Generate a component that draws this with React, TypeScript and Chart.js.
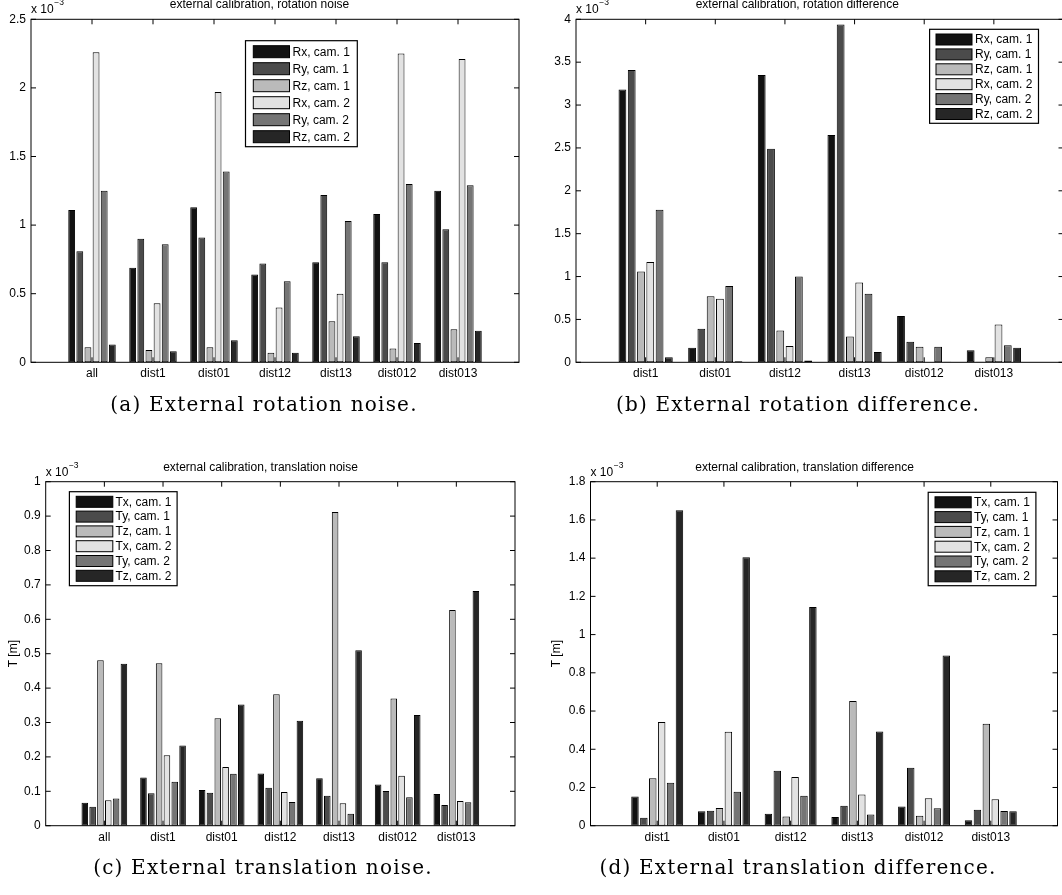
import React, { useEffect, useRef } from 'react';
import { Chart, registerables } from 'chart.js';

Chart.register(...registerables);

// ---------- data (values in units of 10^-3) ----------
const rotLabels = ['Rx, cam. 1', 'Ry, cam. 1', 'Rz, cam. 1', 'Rx, cam. 2', 'Ry, cam. 2', 'Rz, cam. 2'];
const transLabels = ['Tx, cam. 1', 'Ty, cam. 1', 'Tz, cam. 1', 'Tx, cam. 2', 'Ty, cam. 2', 'Tz, cam. 2'];
const barColors = ['#121212', '#4b4b4b', '#bababa', '#e2e2e2', '#757575', '#262626'];

const noiseCategories = ['all', 'dist1', 'dist01', 'dist12', 'dist13', 'dist012', 'dist013'];
const diffCategories = ['dist1', 'dist01', 'dist12', 'dist13', 'dist012', 'dist013'];

// (a) external calibration, rotation noise
const rotNoiseRx1 = [1.11, 0.69, 1.13, 0.64, 0.73, 1.08, 1.25];
const rotNoiseRy1 = [0.81, 0.9, 0.91, 0.72, 1.22, 0.73, 0.97];
const rotNoiseRz1 = [0.11, 0.09, 0.11, 0.07, 0.3, 0.1, 0.24];
const rotNoiseRx2 = [2.26, 0.43, 1.97, 0.4, 0.5, 2.25, 2.21];
const rotNoiseRy2 = [1.25, 0.86, 1.39, 0.59, 1.03, 1.3, 1.29];
const rotNoiseRz2 = [0.13, 0.08, 0.16, 0.07, 0.19, 0.14, 0.23];

// (b) external calibration, rotation difference
const rotDiffRx1 = [3.18, 0.17, 3.35, 2.65, 0.54, 0.14];
const rotDiffRy1 = [3.41, 0.39, 2.49, 3.94, 0.24, 0.005];
const rotDiffRz1 = [1.06, 0.77, 0.37, 0.3, 0.18, 0.06];
const rotDiffRx2 = [1.17, 0.74, 0.19, 0.93, 0.004, 0.44];
const rotDiffRy2 = [1.78, 0.89, 1.0, 0.8, 0.18, 0.2];
const rotDiffRz2 = [0.06, 0.012, 0.02, 0.12, 0.005, 0.17];

// (c) external calibration, translation noise
const transNoiseTx1 = [0.067, 0.14, 0.104, 0.152, 0.138, 0.12, 0.092];
const transNoiseTy1 = [0.055, 0.094, 0.096, 0.11, 0.087, 0.101, 0.06];
const transNoiseTz1 = [0.481, 0.472, 0.312, 0.382, 0.912, 0.37, 0.627];
const transNoiseTx2 = [0.074, 0.205, 0.171, 0.098, 0.065, 0.145, 0.072];
const transNoiseTy2 = [0.079, 0.128, 0.151, 0.069, 0.035, 0.083, 0.068];
const transNoiseTz2 = [0.471, 0.233, 0.352, 0.305, 0.51, 0.322, 0.682];

// (d) external calibration, translation difference
const transDiffTx1 = [0.153, 0.075, 0.062, 0.045, 0.1, 0.028];
const transDiffTy1 = [0.041, 0.078, 0.288, 0.105, 0.303, 0.083];
const transDiffTz1 = [0.248, 0.093, 0.048, 0.652, 0.052, 0.533];
const transDiffTx2 = [0.543, 0.491, 0.255, 0.163, 0.143, 0.138];
const transDiffTy2 = [0.225, 0.178, 0.157, 0.059, 0.091, 0.077];
const transDiffTz2 = [1.651, 1.405, 1.145, 0.493, 0.891, 0.076];

const titles = [
  'external calibration, rotation noise',
  'external calibration, rotation difference',
  'external calibration, translation noise',
  'external calibration, translation difference',
];
const captions = [
  '(a) External rotation noise.',
  '(b) External rotation difference.',
  '(c) External translation noise.',
  '(d) External translation difference.',
];
const exponentText = 'x 10';
const exponentSup = '\u22123';
const yAxisTitle = 'T [m]';

// ---------- layout / style ----------
const SANS = '"Liberation Sans", Arial, Helvetica, sans-serif';

type LegendCfg = {
  box: [number, number, number, number];
  row0: number;
  step: number;
  sw: [number, number];
  swH: number;
  textX: number;
};

type PanelCfg = {
  left: number;
  top: number;
  width: number;
  height: number;
  plot: { L: number; R: number; T: number; B: number };
  title: string;
  categories: string[];
  series: number[][];
  labels: string[];
  yMax: number;
  yStep: number;
  yTitleX?: number;
  legend: LegendCfg;
};

const panels: PanelCfg[] = [
  {
    left: 0, top: -11, width: 531, height: 431,
    plot: { L: 31, R: 519, T: 19.3, B: 362.3 },
    title: titles[0],
    categories: noiseCategories,
    series: [rotNoiseRx1, rotNoiseRy1, rotNoiseRz1, rotNoiseRx2, rotNoiseRy2, rotNoiseRz2],
    labels: rotLabels,
    yMax: 2.5, yStep: 0.5,
    legend: { box: [245.5, 40.7, 357.3, 146.7], row0: 51.7, step: 17, sw: [253.3, 289.5], swH: 12, textX: 292.5 },
  },
  {
    left: 531, top: -11, width: 540, height: 431,
    plot: { L: 576, R: 1063.5, T: 19.3, B: 362.3 },
    title: titles[1],
    categories: diffCategories,
    series: [rotDiffRx1, rotDiffRy1, rotDiffRz1, rotDiffRx2, rotDiffRy2, rotDiffRz2],
    labels: rotLabels,
    yMax: 4, yStep: 0.5,
    legend: { box: [929.6, 29.3, 1038.5, 123.3], row0: 39.5, step: 14.9, sw: [936, 972], swH: 11, textX: 975 },
  },
  {
    left: 0, top: 451, width: 531, height: 444,
    plot: { L: 45.7, R: 515, T: 481.7, B: 825.7 },
    title: titles[2],
    categories: noiseCategories,
    series: [transNoiseTx1, transNoiseTy1, transNoiseTz1, transNoiseTx2, transNoiseTy2, transNoiseTz2],
    labels: transLabels,
    yMax: 1, yStep: 0.1,
    yTitleX: 13.3,
    legend: { box: [69.4, 491.7, 177.1, 585.7], row0: 501.8, step: 14.8, sw: [76.2, 112.8], swH: 11, textX: 115.5 },
  },
  {
    left: 531, top: 451, width: 531, height: 444,
    plot: { L: 590.5, R: 1060, T: 481.7, B: 825.7 },
    title: titles[3],
    categories: diffCategories,
    series: [transDiffTx1, transDiffTy1, transDiffTz1, transDiffTx2, transDiffTy2, transDiffTz2],
    labels: transLabels,
    yMax: 1.8, yStep: 0.2,
    yTitleX: 556.4,
    legend: { box: [928.2, 492.3, 1035.9, 585.7], row0: 502.3, step: 14.8, sw: [935, 971.2], swH: 11, textX: 974 },
  },
];

function Panel({ cfg }: { cfg: PanelCfg }) {
  const ref = useRef<HTMLCanvasElement | null>(null);

  useEffect(() => {
    if (!ref.current) return;
    const { L, R, T, B } = cfg.plot;
    const padLeft = cfg.yTitleX !== undefined ? cfg.yTitleX - cfg.left - 7.2 : 0;
    const xLabels = ['', ...cfg.categories, ''];

    const framePlugin = {
      id: 'matlabFrame',
      afterDraw(chart: any) {
        const ctx = chart.ctx as CanvasRenderingContext2D;
        const { left, right, top, bottom } = chart.chartArea;
        const xs = chart.scales.x;
        const ys = chart.scales.y;
        const line = (x1: number, y1: number, x2: number, y2: number) => {
          ctx.beginPath();
          ctx.moveTo(x1, y1);
          ctx.lineTo(x2, y2);
          ctx.stroke();
        };
        ctx.save();
        ctx.strokeStyle = '#000';
        ctx.lineWidth = 1;
        ctx.strokeRect(left, top, right - left, bottom - top);
        ys.ticks.forEach((t: any) => {
          const py = ys.getPixelForValue(t.value);
          line(left, py, left + 5, py);
          line(right - 5, py, right, py);
        });
        xs.ticks.forEach((t: any, i: number) => {
          const lab = xs.getLabelForValue(t.value);
          if (!lab) return;
          const px = xs.getPixelForTick(i);
          line(px, bottom, px, bottom - 5);
          line(px, top, px, top + 5);
        });
        // exponent label
        ctx.fillStyle = '#000';
        ctx.textBaseline = 'middle';
        ctx.textAlign = 'left';
        ctx.font = `12px ${SANS}`;
        ctx.fillText(exponentText, left, top - 9.4);
        const w = ctx.measureText(exponentText).width;
        ctx.font = `8.5px ${SANS}`;
        ctx.fillText(exponentSup, left + w + 0.5, top - 16.5);

        // legend
        const lg = cfg.legend;
        const ox = cfg.left;
        const oy = cfg.top;
        const [bx0, by0, bx1, by1] = lg.box;
        ctx.fillStyle = '#fff';
        ctx.fillRect(bx0 - ox, by0 - oy, bx1 - bx0, by1 - by0);
        ctx.strokeStyle = '#000';
        ctx.lineWidth = 1.2;
        ctx.strokeRect(bx0 - ox, by0 - oy, bx1 - bx0, by1 - by0);
        ctx.lineWidth = 1;
        chart.data.datasets.forEach((ds: any, i: number) => {
          const cy = lg.row0 + i * lg.step - oy;
          ctx.fillStyle = ds.backgroundColor;
          ctx.fillRect(lg.sw[0] - ox, cy - lg.swH / 2, lg.sw[1] - lg.sw[0], lg.swH);
          ctx.strokeStyle = '#000';
          ctx.strokeRect(lg.sw[0] - ox, cy - lg.swH / 2, lg.sw[1] - lg.sw[0], lg.swH);
          ctx.fillStyle = '#000';
          ctx.font = `12px ${SANS}`;
          ctx.textBaseline = 'middle';
          ctx.fillText(ds.label, lg.textX - ox, cy + 0.5);
        });
        ctx.restore();
      },
    };

    const chart = new Chart(ref.current, {
      type: 'bar',
      data: {
        labels: xLabels,
        datasets: cfg.series.map((vals, i) => ({
          label: cfg.labels[i],
          data: [null, ...vals, null],
          backgroundColor: barColors[i],
          borderColor: '#000',
          borderWidth: 1,
          borderSkipped: false,
          categoryPercentage: 0.8,
          barPercentage: 0.84,
        })),
      },
      options: {
        animation: false,
        responsive: false,
        maintainAspectRatio: false,
        layout: {
          padding: { left: padLeft, top: 0, right: cfg.left + cfg.width - R, bottom: 0 },
        },
        plugins: {
          legend: { display: false },
          tooltip: { enabled: false },
          title: {
            display: true,
            text: cfg.title,
            color: '#000',
            font: { family: SANS, size: 12, weight: 'normal', lineHeight: 1.2 },
            padding: { top: T - cfg.top - 21.5, bottom: 7.1 },
          },
        },
        scales: {
          x: {
            type: 'category',
            offset: false,
            grid: { display: false, drawTicks: false },
            border: { display: false },
            ticks: {
              color: '#000',
              font: { family: SANS, size: 12 },
              padding: 4.5,
              maxRotation: 0,
              minRotation: 0,
              autoSkip: false,
            },
            afterFit: (s: any) => {
              s.height = cfg.top + cfg.height - B;
            },
          },
          y: {
            type: 'linear',
            min: 0,
            max: cfg.yMax,
            grid: { display: false, drawTicks: false },
            border: { display: false },
            ticks: {
              stepSize: cfg.yStep,
              color: '#000',
              font: { family: SANS, size: 12 },
              padding: 5,
              callback: (v: any) => String(Number(Number(v).toFixed(3))),
            },
            title: cfg.yTitleX !== undefined
              ? { display: true, text: yAxisTitle, color: '#000', font: { family: SANS, size: 12 }, padding: 0 }
              : { display: false },
            afterFit: (s: any) => {
              s.width = L - cfg.left - padLeft;
            },
          },
        },
      } as any,
      plugins: [framePlugin],
    });
    return () => chart.destroy();
  }, [cfg]);

  return (
    <canvas
      ref={ref}
      width={cfg.width}
      height={cfg.height}
      style={{
        position: 'absolute',
        left: cfg.left,
        top: cfg.top,
        width: cfg.width,
        height: cfg.height,
      }}
    />
  );
}

const captionPos = [
  { cx: 264, cy: 404 },
  { cx: 798, cy: 404 },
  { cx: 263, cy: 867 },
  { cx: 798, cy: 867 },
];

export default function App() {
  return (
    <div
      style={{
        position: 'absolute',
        left: 0,
        top: 0,
        width: 1062,
        height: 895,
        overflow: 'hidden',
        background: '#fff',
      }}
    >
      {panels.map((p, i) => (
        <Panel key={i} cfg={p} />
      ))}
      {captions.map((c, i) => (
        <div
          key={'c' + i}
          style={{
            position: 'absolute',
            left: captionPos[i].cx - 300,
            top: captionPos[i].cy - 13,
            width: 600,
            height: 26,
            lineHeight: '26px',
            textAlign: 'center',
            fontFamily: '"DejaVu Serif", "Liberation Serif", serif',
            fontSize: 20,
            letterSpacing: '1.2px',
            color: '#000',
            whiteSpace: 'nowrap',
          }}
        >
          {c}
        </div>
      ))}
    </div>
  );
}
